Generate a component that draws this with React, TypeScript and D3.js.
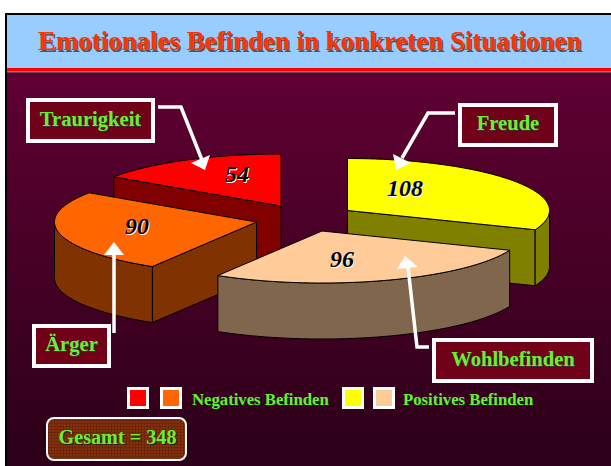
import React from "react";
import * as d3 from "d3";

const categories = ["Freude", "Wohlbefinden", "Ärger", "Traurigkeit"];
const values = [108, 96, 90, 54];
const topColors = ["#FFFF00", "#FFCC99", "#FF6600", "#FF0000"];
const wallColors = ["#808000", "#80664D", "#803300", "#800000"];
const apexes: [number, number][] = [[347.5, 210.5], [322, 231], [256.5, 222], [281, 206]];
const drawOrder = [3, 0, 2, 1];
const valuePos: [number, number][] = [[405, 196], [342, 267], [137, 234], [237, 182]];
const labelBoxes = [
  { x: 458, y: 103, w: 100, h: 44 },
  { x: 432, y: 338, w: 162, h: 45 },
  { x: 32, y: 324, w: 79, h: 44 },
  { x: 26, y: 98, w: 129, h: 45 },
];
const arrowLines: [number, number][][] = [
  [[455, 113], [428, 113], [402, 158]],
  [[429, 347], [417, 347], [408, 267]],
  [[114, 333], [114, 254]],
  [[158, 107], [181, 107], [202, 160]],
];
const arrowHeads: [number, number][][] = [
  [[393, 154], [411, 163], [396, 170]],
  [[405, 256], [397, 269], [418, 267]],
  [[114, 242], [104, 255], [124, 255]],
  [[191, 163], [210, 155], [205, 170]],
];
const legendGroups = [
  { text: "Negatives Befinden", textX: 192, squares: [{ x: 127, c: "#FF0000" }, { x: 160, c: "#FF6600" }] },
  { text: "Positives Befinden", textX: 403, squares: [{ x: 342, c: "#FFFF00" }, { x: 373, c: "#FFCC99" }] },
];
const titleText = "Emotionales Befinden in konkreten Situationen";
const totalText = "Gesamt = 348";

const RX = 202, RY = 52, DEPTH = 56;
const FONT = "'Liberation Serif', 'Times New Roman', serif";
const GREEN = "#66F033";

const toDeg = d3.scaleLinear().domain([0, 2 * Math.PI]).range([0, 360]);
const lineGen = d3.line<[number, number]>().x(d => d[0]).y(d => d[1]);
const pieGen = d3.pie<number>().sort(null).value(d => d);

function pt(a: [number, number], deg: number, dy = 0): [number, number] {
  const t = (deg * Math.PI) / 180;
  return [a[0] + RX * Math.sin(t), a[1] - RY * Math.cos(t) + dy];
}
function arcPts(a: [number, number], d0: number, d1: number, dy = 0) {
  const n = Math.max(2, Math.ceil(Math.abs(d1 - d0)));
  return d3.range(n + 1).map(i => pt(a, d0 + ((d1 - d0) * i) / n, dy));
}

export default function App() {
  const arcs = pieGen(values);
  return (
    <svg width={611} height={466} style={{ position: "absolute", left: 0, top: 0, background: "#fff" }}>
      <defs>
        <linearGradient id="bg" x1="0" y1="0" x2="0" y2="1">
          <stop offset="0" stopColor="#600033" />
          <stop offset="1" stopColor="#2B0018" />
        </linearGradient>
        <pattern id="boxTex" width="2" height="2" patternUnits="userSpaceOnUse">
          <rect width="2" height="2" fill="#800000" />
          <rect width="1" height="1" fill="#700018" />
          <rect x="1" y="1" width="1" height="1" fill="#700018" />
        </pattern>
        <pattern id="totalTex" width="3" height="3" patternUnits="userSpaceOnUse">
          <rect width="3" height="3" fill="#843404" />
          <rect width="3" height="1" fill="#6E2410" />
          <rect width="1" height="3" fill="#6E2410" />
        </pattern>
      </defs>
      <rect x={5} y={13} width={606} height={453} fill="#000" />
      <rect x={7} y={15} width={604} height={451} fill="#99CCFF" />
      <rect x={7} y={72} width={604} height={394} fill="url(#bg)" />
      <rect x={7} y={68} width={604} height={3} fill="#FF0000" />
      <rect x={7} y={71} width={604} height={1.5} fill="#808080" />

      <g fontFamily={FONT} fontWeight="bold" fontSize={26.9}>
        <text x={39.5} y={51.5} fill="#555">{titleText}</text>
        <text x={38} y={50} fill="#FF3300">{titleText}</text>
      </g>

      {drawOrder.map(i => {
        const a = apexes[i];
        const d0 = toDeg(arcs[i].startAngle);
        const d1 = toDeg(arcs[i].endAngle);
        const faces: [number, number][][] = [];
        if (Math.sin(arcs[i].startAngle) < -1e-6) {
          const p = pt(a, d0);
          faces.push([a, p, [p[0], p[1] + DEPTH], [a[0], a[1] + DEPTH]]);
        }
        if (Math.sin(arcs[i].endAngle) > 1e-6) {
          const p = pt(a, d1);
          faces.push([a, p, [p[0], p[1] + DEPTH], [a[0], a[1] + DEPTH]]);
        }
        const w0 = Math.max(d0, 90), w1 = Math.min(d1, 270);
        const wall = w1 > w0
          ? [...arcPts(a, w0, w1), ...arcPts(a, w1, w0, DEPTH)]
          : null;
        const top = [a, ...arcPts(a, d0, d1)] as [number, number][];
        return (
          <g key={categories[i]} stroke="#000" strokeWidth={1} strokeLinejoin="round">
            {faces.map((f, k) => (
              <path key={k} d={lineGen(f) + "Z"} fill={wallColors[i]} />
            ))}
            {wall && <path d={lineGen(wall) + "Z"} fill={wallColors[i]} />}
            <path d={lineGen(top) + "Z"} fill={topColors[i]} />
          </g>
        );
      })}

      {values.map((v, i) => (
        <g key={v} fontFamily={FONT} fontWeight="bold" fontStyle="italic" fontSize={24} textAnchor="middle">
          <text x={valuePos[i][0] + 1} y={valuePos[i][1] + 1} fill="#fff">{v}</text>
          <text x={valuePos[i][0]} y={valuePos[i][1]} fill="#000">{v}</text>
        </g>
      ))}

      {arrowLines.map((l, i) => (
        <g key={i}>
          <path d={lineGen(l) ?? ""} fill="none" stroke="#fff" strokeWidth={3.5} strokeLinejoin="miter" />
          <path d={lineGen(arrowHeads[i]) + "Z"} fill="#fff" />
        </g>
      ))}

      {categories.map((c, i) => {
        const b = labelBoxes[i];
        return (
          <g key={c}>
            <rect x={b.x + 2} y={b.y + 2} width={b.w - 4} height={b.h - 4} fill="url(#boxTex)" stroke="#fff" strokeWidth={4} />
            <g fontFamily={FONT} fontWeight="bold" fontSize={20.6} textAnchor="middle">
              <text x={b.x + b.w / 2 + 1} y={b.y + b.h / 2 + 6} fill="#333">{c}</text>
              <text x={b.x + b.w / 2} y={b.y + b.h / 2 + 5} fill={GREEN}>{c}</text>
            </g>
          </g>
        );
      })}

      {legendGroups.map(g => (
        <g key={g.text}>
          {g.squares.map(s => (
            <rect key={s.x} x={s.x + 1.5} y={388.5} width={19} height={19} fill={s.c} stroke="#fff" strokeWidth={3} />
          ))}
          <g fontFamily={FONT} fontWeight="bold" fontSize={16.7}>
            <text x={g.textX + 1} y={406} fill="#222">{g.text}</text>
            <text x={g.textX} y={405} fill={GREEN}>{g.text}</text>
          </g>
        </g>
      ))}

      <rect x={47} y={418} width={139} height={42} rx={7} fill="url(#totalTex)" stroke="#fff" strokeWidth={2} />
      <g fontFamily={FONT} fontWeight="bold" fontSize={20.2} textAnchor="middle">
        <text x={118.5} y={445} fill="#222">{totalText}</text>
        <text x={117.5} y={444} fill={GREEN}>{totalText}</text>
      </g>
    </svg>
  );
}
